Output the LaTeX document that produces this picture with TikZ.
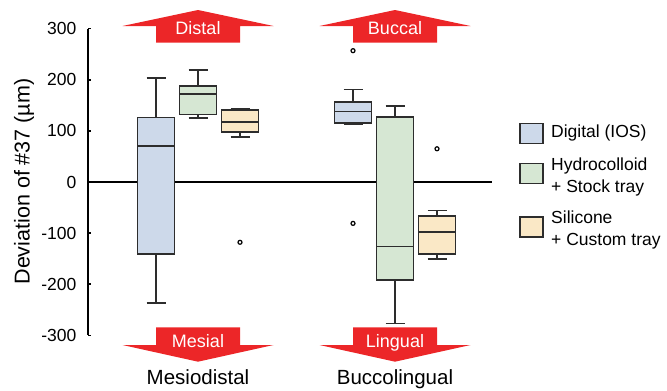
\documentclass[tikz,border=0pt]{standalone}
\usepackage{fontspec}
\setmainfont{Liberation Sans}
\usetikzlibrary{positioning}

\definecolor{iosblue}{RGB}{205,217,234}
\definecolor{hydgreen}{RGB}{214,231,211}
\definecolor{silyellow}{RGB}{250,232,198}
\definecolor{boxline}{RGB}{45,45,45}
\definecolor{arrowred}{RGB}{236,38,40}

\begin{document}
\begin{tikzpicture}[x=1pt, y=-1pt,
  % Box Styles
  iosbox/.style={draw=boxline, line width=1.6pt, fill=iosblue},
  hydbox/.style={draw=boxline, line width=1.6pt, fill=hydgreen},
  silbox/.style={draw=boxline, line width=1.6pt, fill=silyellow},
  whisker/.style={draw=boxline, line width=1.6pt},
  outlier/.style={draw=black, line width=1.2pt, fill=white},
  % Axis Styles
  axisline/.style={draw=black, line width=1.5pt},
  ticklabel/.style={anchor=east, inner sep=0pt, font=\fontsize{17.5}{17.5}\selectfont},
  catlabel/.style={anchor=base, inner sep=0pt, font=\fontsize{20.5}{20.5}\selectfont},
  % Direction Arrows
  dirarrow/.style={fill=arrowred, draw=none},
  dirlabel/.style={anchor=base, inner sep=0pt, text=white, font=\fontsize{18}{18}\selectfont},
  % Legend
  swatch/.style={draw=boxline, line width=1.6pt, minimum width=23pt, minimum height=20pt, inner sep=0pt},
  legtext/.style={anchor=west, align=left, inner sep=0pt, font=\fontsize{17.5}{22}\selectfont}
]
\useasboundingbox (0,0) rectangle (667,391);

% Direction arrows
\fill[dirarrow] (198,10) -- (273.5,26) -- (240,26) -- (240,42.7) -- (156,42.7) -- (156,26) -- (122.5,26) -- cycle;
\fill[dirarrow] (395,10) -- (470.5,26) -- (437,26) -- (437,42.7) -- (353,42.7) -- (353,26) -- (319.5,26) -- cycle;
\fill[dirarrow] (198,361.7) -- (273.5,345) -- (240,345) -- (240,327.3) -- (156,327.3) -- (156,345) -- (122.5,345) -- cycle;
\fill[dirarrow] (395,361.7) -- (470.5,345) -- (437,345) -- (437,327.3) -- (353,327.3) -- (353,345) -- (319.5,345) -- cycle;
\node[dirlabel] (distal) at (198,34) {Distal};
\node[dirlabel] (buccal) at (395,34) {Buccal};
\node[dirlabel] (mesial) at (198,347.3) {Mesial};
\node[dirlabel] (lingual) at (395,347) {Lingual};

% Axis title and groups
\node[anchor=base, rotate=90, inner sep=0pt, font=\fontsize{21.5}{21.5}\selectfont] (ytitle) at (29.5,181.5) {Deviation of \#37 (µm)};
\node[catlabel] (mesiodistal) at (198,384) {Mesiodistal};
\node[catlabel] (buccolingual) at (395,384) {Buccolingual};

% Plot area, values in um
\begin{scope}[shift={(0,182)}, y=0.511pt]
  \draw[axisline] (88,300) -- (88,-300);
  \draw[axisline] (88,300) -- (91,300);
  \draw[axisline] (88,200) -- (91,200);
  \draw[axisline] (88,100) -- (91,100);
  \draw[axisline] (88,-100) -- (91,-100);
  \draw[axisline] (88,-200) -- (91,-200);
  \draw[axisline] (88,-300) -- (91,-300);
  \draw[line width=1.4pt] (88,0) -- (492,0);
  \node[ticklabel] (t300) at (76.5,300) {300};
  \node[ticklabel] (t200) at (76.5,200) {200};
  \node[ticklabel] (t100) at (76.5,100) {100};
  \node[ticklabel] (t0) at (76.5,0) {0};
  \node[ticklabel] (tm100) at (76.5,-100) {-100};
  \node[ticklabel] (tm200) at (76.5,-200) {-200};
  \node[ticklabel] (tm300) at (76.5,-300) {-300};

  % Mesiodistal
  \draw[whisker] (156,203) -- (156,-237);
  \draw[whisker] (146.5,203) -- (165.5,203);
  \draw[whisker] (146.5,-237) -- (165.5,-237);
  \draw[iosbox] (137.5,-141) rectangle (174.5,126);
  \draw[whisker] (137.5,71) -- (174.5,71);

  \draw[whisker] (198,219) -- (198,125);
  \draw[whisker] (188.5,219) -- (207.5,219);
  \draw[whisker] (188.5,125) -- (207.5,125);
  \draw[hydbox] (179.5,132) rectangle (216.5,188);
  \draw[whisker] (179.5,172) -- (216.5,172);

  \draw[whisker] (240,144) -- (240,88);
  \draw[whisker] (230.5,144) -- (249.5,144);
  \draw[whisker] (230.5,88) -- (249.5,88);
  \draw[silbox] (221.5,98) rectangle (258.5,141);
  \draw[whisker] (221.5,117) -- (258.5,117);
  \draw[outlier] (240,-118) circle (2pt);

  % Buccolingual
  \draw[whisker] (353,181) -- (353,113);
  \draw[whisker] (343.5,181) -- (362.5,181);
  \draw[whisker] (343.5,113) -- (362.5,113);
  \draw[iosbox] (334.5,116) rectangle (371.5,157);
  \draw[whisker] (334.5,138) -- (371.5,138);
  \draw[outlier] (353,257) circle (2pt);
  \draw[outlier] (353,-81) circle (2pt);

  \draw[whisker] (395,149) -- (395,-277);
  \draw[whisker] (385.5,149) -- (404.5,149);
  \draw[whisker] (385.5,-277) -- (404.5,-277);
  \draw[hydbox] (376.5,-192) rectangle (413.5,127);
  \draw[whisker] (376.5,-126) -- (413.5,-126);

  \draw[whisker] (437,-56) -- (437,-151);
  \draw[whisker] (427.5,-56) -- (446.5,-56);
  \draw[whisker] (427.5,-151) -- (446.5,-151);
  \draw[silbox] (418.5,-141) rectangle (455.5,-66);
  \draw[whisker] (418.5,-98) -- (455.5,-98);
  \draw[outlier] (437,65) circle (2pt);
\end{scope}

% Legend
\node[swatch, fill=iosblue] (swios) at (531.7,133.3) {};
\node[swatch, fill=hydgreen] (swhyd) at (531.7,173.3) {};
\node[swatch, fill=silyellow] (swsil) at (531.7,226.7) {};
\node[legtext, right=7pt of swios] (legios) {Digital (IOS)};
\node[legtext, right=7pt of swhyd, yshift=-3.7pt] (leghyd) {Hydrocolloid\\+ Stock tray};
\node[legtext, right=7pt of swsil, yshift=-3.3pt] (legsil) {Silicone\\+ Custom tray};

\end{tikzpicture}
\end{document}
